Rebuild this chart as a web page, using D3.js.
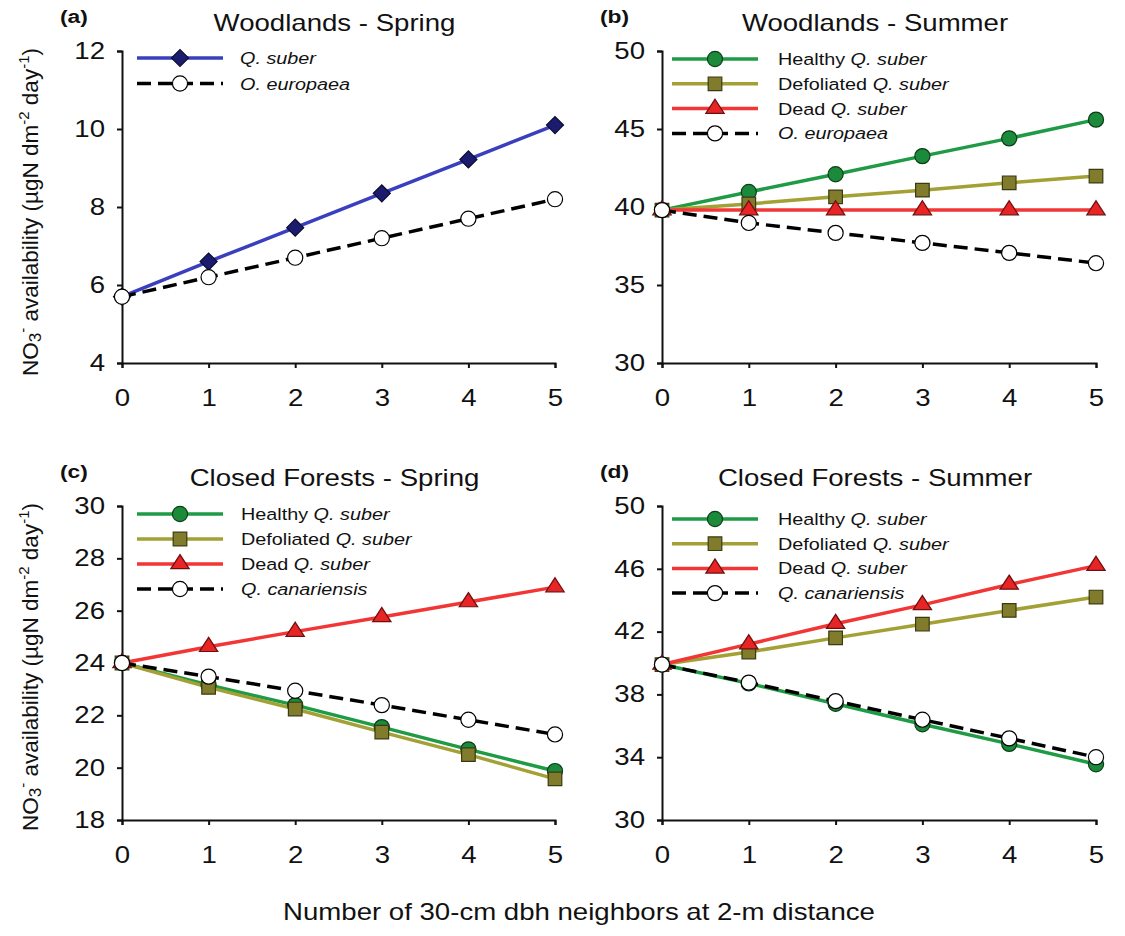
<!DOCTYPE html>
<html><head><meta charset="utf-8">
<script src="https://cdn.jsdelivr.net/npm/d3@7"></script>
<style>body{margin:0;background:#fff} text{font-family:"Liberation Sans",Arial,sans-serif;fill:#111}</style>
</head><body><svg id="c" width="1125" height="936"></svg>
<script>
// ---- data ----
const neighbors = [0, 1, 2, 3, 4, 5];
const xTicks = [0, 1, 2, 3, 4, 5];
const ticksA = [4, 6, 8, 10, 12];
const ticksB = [30, 35, 40, 45, 50];
const ticksC = [18, 20, 22, 24, 26, 28, 30];
const ticksD = [30, 34, 38, 42, 46, 50];
const titles = ["Woodlands - Spring", "Woodlands - Summer", "Closed Forests - Spring", "Closed Forests - Summer"];
const panelLabels = ["(a)", "(b)", "(c)", "(d)"];

const aSuber = [5.7, 6.6, 7.47, 8.35, 9.22, 10.1];
const aEuropaea = [5.7, 6.2, 6.7, 7.2, 7.7, 8.2];
const bHealthy = [39.8, 40.96, 42.1, 43.26, 44.4, 45.6];
const bDefoliated = [39.8, 40.2, 40.65, 41.08, 41.55, 41.98];
const bDead = [39.8, 39.8, 39.8, 39.8, 39.8, 39.8];
const bEuropaea = [39.8, 38.98, 38.34, 37.7, 37.06, 36.4];
const cHealthy = [24.0, 23.16, 22.39, 21.55, 20.7, 19.87];
const cDefoliated = [24.0, 23.07, 22.24, 21.36, 20.5, 19.57];
const cDead = [24.0, 24.62, 25.2, 25.76, 26.33, 26.9];
const cCanariensis = [24.0, 23.48, 22.94, 22.39, 21.83, 21.27];
const dHealthy = [39.9, 38.7, 37.4, 36.1, 34.85, 33.55];
const dDefoliated = [39.9, 40.7, 41.6, 42.47, 43.35, 44.2];
const dDead = [39.9, 41.2, 42.5, 43.7, 45.0, 46.2];
const dCanariensis = [39.9, 38.75, 37.57, 36.39, 35.2, 34.0];

// ---- styles ----
const SX = 1.2; // horizontal stretch of the reference's lettering
const ST = {
  suber:  {line: "#3a3fbf", fill: "#1b1c6e", stroke: "#0c0c30", sym: "diamond", dash: null},
  healthy:{line: "#1f9a45", fill: "#1b8a3b", stroke: "#0b3d18", sym: "circle", dash: null},
  defol:  {line: "#a3a035", fill: "#807c2b", stroke: "#3b3a12", sym: "square", dash: null},
  dead:   {line: "#f23636", fill: "#e82424", stroke: "#6e1010", sym: "triangle", dash: null},
  other:  {line: "#000", fill: "#fff", stroke: "#000", sym: "circle", dash: "14,7"}
};

const panels = [
  {x0: 122, x1: 555, y0: 51, y1: 363, dom: [4, 12], ticks: ticksA, lx: 137, tx: 240, ly: 58, lgap: 25.5,
   series: [
     {name: [["Q. suber", true]], st: ST.suber, v: aSuber},
     {name: [["O. europaea", true]], st: ST.other, v: aEuropaea}]},
  {x0: 662, x1: 1096, y0: 51, y1: 363, dom: [30, 50], ticks: ticksB, lx: 672, tx: 778, ly: 59, lgap: 24.8,
   series: [
     {name: [["Healthy ", false], ["Q. suber", true]], st: ST.healthy, v: bHealthy},
     {name: [["Defoliated ", false], ["Q. suber", true]], st: ST.defol, v: bDefoliated},
     {name: [["Dead ", false], ["Q. suber", true]], st: ST.dead, v: bDead},
     {name: [["O. europaea", true]], st: ST.other, v: bEuropaea}]},
  {x0: 122, x1: 555, y0: 506, y1: 820, dom: [18, 30], ticks: ticksC, lx: 137, tx: 241, ly: 514, lgap: 25,
   series: [
     {name: [["Healthy ", false], ["Q. suber", true]], st: ST.healthy, v: cHealthy},
     {name: [["Defoliated ", false], ["Q. suber", true]], st: ST.defol, v: cDefoliated},
     {name: [["Dead ", false], ["Q. suber", true]], st: ST.dead, v: cDead},
     {name: [["Q. canariensis", true]], st: ST.other, v: cCanariensis}]},
  {x0: 662, x1: 1096, y0: 506, y1: 820, dom: [30, 50], ticks: ticksD, lx: 672, tx: 778, ly: 519, lgap: 24.7,
   series: [
     {name: [["Healthy ", false], ["Q. suber", true]], st: ST.healthy, v: dHealthy},
     {name: [["Defoliated ", false], ["Q. suber", true]], st: ST.defol, v: dDefoliated},
     {name: [["Dead ", false], ["Q. suber", true]], st: ST.dead, v: dDead},
     {name: [["Q. canariensis", true]], st: ST.other, v: dCanariensis}]}
];

const svg = d3.select("#c");
svg.append("rect").attr("width", 1125).attr("height", 936).attr("fill", "#fff");

// text placed at (x,y) and stretched horizontally
function stext(g, x, y, size) {
  return g.append("text").attr("transform", `translate(${x},${y}) scale(${SX},1)`).attr("font-size", size);
}

function symbolPath(sym) {
  const t = {circle: d3.symbolCircle, square: d3.symbolSquare, triangle: d3.symbolTriangle, diamond: d3.symbolSquare}[sym];
  const size = {circle: 180, square: 185, triangle: 115, diamond: 145}[sym];
  return d3.symbol().type(t).size(size)();
}
function drawMarker(g, x, y, st) {
  const p = g.append("path").attr("d", symbolPath(st.sym))
    .attr("fill", st.fill).attr("stroke", st.stroke).attr("stroke-width", 1.2);
  if (st.sym === "diamond") p.attr("transform", `translate(${x},${y}) rotate(45)`);
  else if (st.sym === "triangle") p.attr("transform", `translate(${x},${y}) scale(1.12,1)`);
  else p.attr("transform", `translate(${x},${y})`);
}

panels.forEach((P, i) => {
  const x = d3.scaleLinear().domain([0, 5]).range([P.x0, P.x1]);
  const y = d3.scaleLinear().domain(P.dom).range([P.y1, P.y0]);
  const g = svg.append("g");

  // axes
  const ya = g.append("g").attr("transform", `translate(${P.x0},0)`)
    .call(d3.axisLeft(y).tickValues(P.ticks).tickSize(5).tickPadding(12).tickFormat(d3.format("d")));
  const xa = g.append("g").attr("transform", `translate(0,${P.y1})`)
    .call(d3.axisBottom(x).tickValues(xTicks).tickSize(5).tickPadding(22).tickFormat(d3.format("d")));
  [ya, xa].forEach(a => {
    a.selectAll("path.domain").attr("stroke", "#111").attr("stroke-width", 2);
    a.selectAll(".tick line").attr("stroke", "#111").attr("stroke-width", 2);
    a.selectAll("text").attr("font-size", 23).attr("fill", "#111")
      .attr("font-family", '"Liberation Sans",Arial,sans-serif')
      .each(function () {
        const t = d3.select(this);
        const xv = +(t.attr("x") || 0);
        t.attr("x", xv / SX).attr("transform", `scale(${SX},1)`);
      });
  });

  // title & panel label
  stext(g, (P.x0 + P.x1) / 2 - 4, P.y0 - 20, 23).attr("text-anchor", "middle").text(titles[i]);
  stext(g, P.x0 - 62, P.y0 - 28, 19).attr("font-weight", "bold").text(panelLabels[i]);

  // lines
  const line = d3.line().x((d, k) => x(neighbors[k])).y(d => y(d));
  P.series.forEach(s => {
    g.append("path").datum(s.v).attr("d", line).attr("fill", "none")
      .attr("stroke", s.st.line).attr("stroke-width", 3.5)
      .attr("stroke-dasharray", s.st.dash);
  });
  P.series.forEach(s => {
    s.v.forEach((d, k) => drawMarker(g, x(neighbors[k]), y(d), s.st));
  });

  // legend
  P.series.forEach((s, k) => {
    const ly = P.ly + k * P.lgap;
    g.append("line").attr("x1", P.lx).attr("x2", P.lx + 86).attr("y1", ly).attr("y2", ly)
      .attr("stroke", s.st.line).attr("stroke-width", 3.5).attr("stroke-dasharray", s.st.dash);
    drawMarker(g, P.lx + 43, ly, s.st);
    const t = stext(g, P.tx, ly + 6, 16.5);
    s.name.forEach(([txt, it]) => t.append("tspan").attr("font-style", it ? "italic" : "normal").text(txt));
  });
});

// y axis labels
[212, 667].forEach(cy => {
  const t = svg.append("text").attr("transform", `translate(38,${cy}) rotate(-90)`)
    .attr("text-anchor", "middle").attr("font-size", 22.5);
  t.append("tspan").text("NO");
  t.append("tspan").attr("font-size", 17).attr("dy", 3).text("3");
  t.append("tspan").attr("font-size", 15).attr("dy", -13).text("-");
  t.append("tspan").attr("dy", 10).text(" availability (µgN dm");
  t.append("tspan").attr("font-size", 15).attr("dy", -9).text("-2");
  t.append("tspan").attr("dy", 9).text(" day");
  t.append("tspan").attr("font-size", 15).attr("dy", -9).text("-1");
  t.append("tspan").attr("dy", 9).text(")");
});

// x axis label
stext(svg, 579, 920, 23).attr("text-anchor", "middle")
  .text("Number of 30-cm dbh neighbors at 2-m distance");
</script></body></html>
